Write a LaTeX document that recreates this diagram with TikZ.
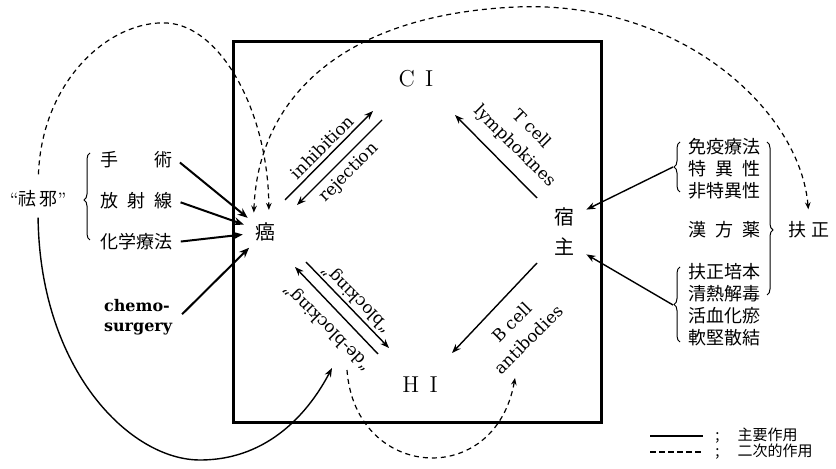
\documentclass[tikz,border=0pt]{standalone}
\usepackage{fontspec}
\newfontfamily\jp{Noto Sans CJK JP}
\newfontfamily\labelfont{DejaVu Serif}
\usetikzlibrary{arrows.meta,decorations.pathreplacing}

\begin{document}
\begin{tikzpicture}[
    x=0.5pt, y=-0.5pt,
    font=\labelfont\fontsize{8.4}{12}\selectfont,
    >={Stealth[length=4.5pt,width=3.4pt]},
    frame/.style={draw, line width=1.5pt, minimum width=184pt, minimum height=190.5pt},
    pole/.style={font=\rmfamily\fontsize{11.5}{14}\selectfont, inner sep=1pt},
    cjk/.style={font=\jp\fontsize{9}{11}\selectfont, inner sep=2pt},
    lbl/.style={align=center, inner sep=0pt},
    flow/.style={->, line width=0.7pt},
    therapy/.style={-{Stealth[length=5pt,width=4pt]}, line width=1pt, shorten <=2pt},
    second/.style={-{Stealth[length=3.5pt,width=2.8pt]}, line width=0.6pt, dash pattern=on 2.5pt off 2pt},
    brace/.style={decorate, decoration={brace, amplitude=3pt}, line width=0.5pt}
]
\useasboundingbox (0,0) rectangle (836,469);

% main square with the four poles
\node[frame] (box) at (417,232.5) {};
\node[pole] (ci) at (416,79) {C\hspace{0.45em}I};
\node[pole] (hi) at (420,385) {H\hspace{0.45em}I};
\node[cjk, font=\jp\fontsize{10}{12}\selectfont, circle, minimum size=22pt, inner sep=0pt] (cancer) at (265,232) {癌};
\node[cjk, font=\jp\fontsize{10}{15}\selectfont, align=center, minimum width=22pt] (host) at (564,232) {宿\\主};

% arrow ends inside the square
\coordinate (inh-s) at (285,200);  \coordinate (inh-e) at (373,111);
\coordinate (rej-s) at (382,120);  \coordinate (rej-e) at (297,205);
\coordinate (tc-s) at (537,198);   \coordinate (tc-e) at (455,115);
\coordinate (bc-s) at (537,263);   \coordinate (bc-e) at (452,353);
\coordinate (blk-s) at (306,262);  \coordinate (blk-e) at (389,348);
\coordinate (dblk-s) at (378,354); \coordinate (dblk-e) at (295,267);
\coordinate (hi-out) at (347,370); \coordinate (bc-in) at (515,378);
\coordinate (dblk-in) at (332,368);

\draw[flow] (inh-s) -- (inh-e);
\draw[flow] (rej-s) -- (rej-e);
\draw[flow] (tc-s) -- (tc-e);
\draw[flow] (bc-s) -- (bc-e);
\draw[flow] (blk-s) -- (blk-e);
\draw[flow] (dblk-s) -- (dblk-e);

\node[lbl, rotate=45] (inh) at (322,147) {inhibition};
\node[lbl, rotate=45] (rej) at (349,173) {rejection};
\node[lbl, rotate=-45] (tcell) at (523,138) {T cell\\lymphokines};
\node[lbl, rotate=45] (bcell) at (520,331) {B cell\\antibodies};
\node[lbl, rotate=135] (blk) at (357,298) {“blocking”};
\node[lbl, rotate=135] (dblk) at (328,327) {“de-blocking”};

% left side: "quxie" treatments
\node[cjk] (quxie) at (38,199) {{\rmfamily``}祛\,邪{\rmfamily''}};
\node[cjk, anchor=west] (surgery) at (96,160) {\makebox[4em][s]{手\hfil 術}};
\node[cjk, anchor=west] (radio) at (96,201) {\makebox[4em][s]{放\hfil 射\hfil 線}};
\node[cjk, anchor=west] (chemo) at (96,242) {化学療法};
\node[font=\labelfont\bfseries\fontsize{8}{10}\selectfont, align=left, anchor=west] (chemosurg) at (97,317) {chemo-\\surgery};
\draw[brace, decoration={aspect=0.46}] (90,240) -- (90,153);

\draw[therapy] (surgery.east) -- (cancer);
\draw[therapy] (radio.east) -- (cancer);
\draw[therapy] (chemo.east) -- (cancer);
\draw[therapy] (chemosurg.east) -- (cancer);

% right side: "fuzheng" treatments
\node[cjk, align=left] (immuno) at (724,169) {免疫療法\\\makebox[4em][s]{特\hfil 異\hfil 性}\\非特異性};
\node[cjk] (kampo) at (724,230) {\makebox[4em][s]{漢\hfil 方\hfil 薬}};
\node[cjk, align=left] (tcm) at (724,305) {扶正培本\\清熱解毒\\活血化瘀\\軟堅散結};
\node[cjk] (fuzheng) at (809,230) {扶\hspace{0.3em}正};
\draw[brace] (680,192) -- (680,142);
\draw[brace] (680,342) -- (680,267);
\draw[brace, decoration={aspect=0.575}] (767,142) -- (767,295);
\coordinate (immuno-tip) at (673,167);
\coordinate (tcm-tip) at (673,305);

\draw[flow] (immuno-tip) -- (host.45);
\draw[flow] (tcm-tip) -- (host.-45);

% secondary effects
\draw[second, shorten <=6pt] (quxie.north) .. controls (42,80) and (110,20) .. (167,23)
    .. controls (220,26) and (268,110) .. (cancer.80);
\draw[second, {Stealth[length=3.5pt,width=2.8pt]}-{Stealth[length=3.5pt,width=2.8pt]}, shorten >=4pt]
    (cancer.120) .. controls (258,100) and (340,15) .. (516,7)
    .. controls (680,0) and (800,110) .. (fuzheng.north);
\draw[flow, shorten <=3pt] (quxie.south) .. controls (40,370) and (130,460) .. (200,460)
    .. controls (270,460) and (310,410) .. (dblk-in);
\draw[second] (hi-out) .. controls (355,480) and (495,490) .. (bc-in);

% legend
\coordinate (legA) at (650,436);
\coordinate (legB) at (650,452);
\node[cjk, font=\jp\fontsize{7.5}{9}\selectfont, anchor=west] (legAtxt) at (711,436) {;\hspace{1.2em}主要作用};
\node[cjk, font=\jp\fontsize{7.5}{9}\selectfont, anchor=west] (legBtxt) at (711,452) {;\hspace{1.2em}二次的作用};
\draw[line width=0.7pt] (legA) -- ([xshift=-4pt]legAtxt.west);
\draw[line width=0.7pt, dash pattern=on 3pt off 1.5pt] (legB) -- ([xshift=-4pt]legBtxt.west);
\end{tikzpicture}
\end{document}
